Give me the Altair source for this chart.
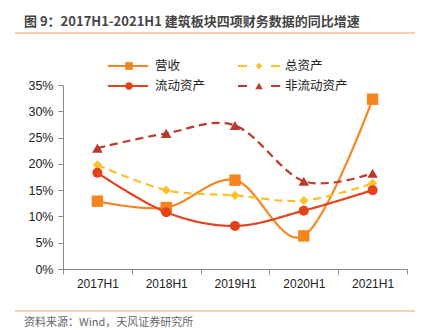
import altair as alt
import pandas as pd

periods = ["2017H1", "2018H1", "2019H1", "2020H1", "2021H1"]
series_names = ["营收", "总资产", "流动资产", "非流动资产"]
revenue = [12.9, 11.7, 16.9, 6.3, 32.3]
total_assets = [19.8, 15.0, 14.0, 13.0, 16.3]
current_assets = [18.3, 10.8, 8.2, 11.1, 15.0]
noncurrent_assets = [23.0, 25.8, 27.3, 16.7, 18.2]
y_ticks = [0, 0.05, 0.10, 0.15, 0.20, 0.25, 0.30, 0.35]

colors = ["#F7851F", "#FFC02A", "#E2431B", "#B93A2E"]
shapes = ["square", "diamond", "circle", "triangle-up"]
sizes = [130, 85, 100, 110]
dashed = [False, True, False, True]

values = [revenue, total_assets, current_assets, noncurrent_assets]
rows = []
for name, vals in zip(series_names, values):
    for p, v in zip(periods, vals):
        rows.append({"period": p, "series": name, "value": v / 100})
df = pd.DataFrame(rows)

W, H = 344, 184
FONT = "Liberation Sans"
CJK = "Noto Sans CJK SC"

x_enc = alt.X("period:N", sort=periods,
              scale=alt.Scale(type="band", paddingInner=0, paddingOuter=0),
              axis=alt.Axis(title=None, labelAngle=0, tickBand="extent",
                            labelFont=FONT, labelFontSize=12, labelColor="#222",
                            domainColor="#888", tickColor="#888", tickSize=5,
                            labelPadding=4))
y_enc = alt.Y("value:Q", scale=alt.Scale(domain=[0, 0.35], nice=False),
              axis=alt.Axis(title=None, format=".0%", values=y_ticks,
                            grid=False, labelFont=FONT, labelFontSize=12.5,
                            labelColor="#222", domainColor="#888", tickColor="#888",
                            tickSize=5, labelPadding=5))

layers = []
for i, name in enumerate(series_names):
    sub = df[df.series == name]
    base = alt.Chart(sub)
    line = base.mark_line(interpolate="cardinal", strokeWidth=2.2,
                          color=colors[i],
                          strokeDash=[8, 5] if dashed[i] else [1, 0]).encode(x=x_enc, y=y_enc)
    pts = base.mark_point(shape=shapes[i], filled=True, size=sizes[i], opacity=1,
                          color=colors[i]).encode(x=x_enc, y=y_enc)
    layers += [line, pts]

# decorations (title, rules, source)
def txt(s, x, y, size, color, weight="normal", font=CJK):
    return alt.Chart(pd.DataFrame({"t": [s]})).mark_text(
        align="left", baseline="middle", fontSize=size, color=color,
        fontWeight=weight, font=font).encode(text="t:N", x=alt.value(x), y=alt.value(y))

def rule(x1, x2, y, color, width=1.5, dash=None):
    kw = dict(color=color, strokeWidth=width)
    if dash:
        kw["strokeDash"] = dash
    return alt.Chart(pd.DataFrame({"a": [0]})).mark_rule(**kw).encode(
        x=alt.value(x1), x2=alt.value(x2), y=alt.value(y))

OX, OY = 63, 85
deco = []
deco.append(txt("图 9：2017H1-2021H1 建筑板块四项财务数据的同比增速", 24 - OX, 22 - OY, 13, "#444", "bold"))
deco.append(rule(15 - OX, 415 - OX, 33 - OY, "#F8BE8C", 1.5))
deco.append(rule(15 - OX, 415 - OX, 311 - OY, "#E4A874", 1.2))
deco.append(txt("资料来源：Wind，天风证券研究所", 24 - OX, 323 - OY, 11, "#666"))

# legend
leg_pos = [(108, 66), (238, 66), (108, 86), (238, 86)]
leg_sizes = [60, 45, 55, 55]
for i, name in enumerate(series_names):
    lx, ly = leg_pos[i]
    if dashed[i]:
        deco.append(rule(lx - OX, lx + 9 - OX, ly - OY, colors[i], 2))
        deco.append(rule(lx + 33 - OX, lx + 42 - OX, ly - OY, colors[i], 2))
    else:
        deco.append(rule(lx - OX, lx + 40 - OX, ly - OY, colors[i], 2))
    deco.append(alt.Chart(pd.DataFrame({"a": [0]})).mark_point(
        shape=shapes[i], filled=True, size=leg_sizes[i], opacity=1, color=colors[i]
    ).encode(x=alt.value(lx + 21 - OX), y=alt.value(ly - OY)))
    deco.append(txt(name, lx + 47 - OX, ly - OY, 12.5, "#222"))

chart = alt.layer(*layers, *deco).properties(
    width=W, height=H,
    autosize=alt.AutoSizeParams(type="none"),
    padding={"left": OX, "top": OY, "right": 422 - OX - W, "bottom": 334 - OY - H},
    background="white",
).configure_view(stroke=None)

chart.save("out.html", embed_options={"renderer": "svg", "actions": False})
